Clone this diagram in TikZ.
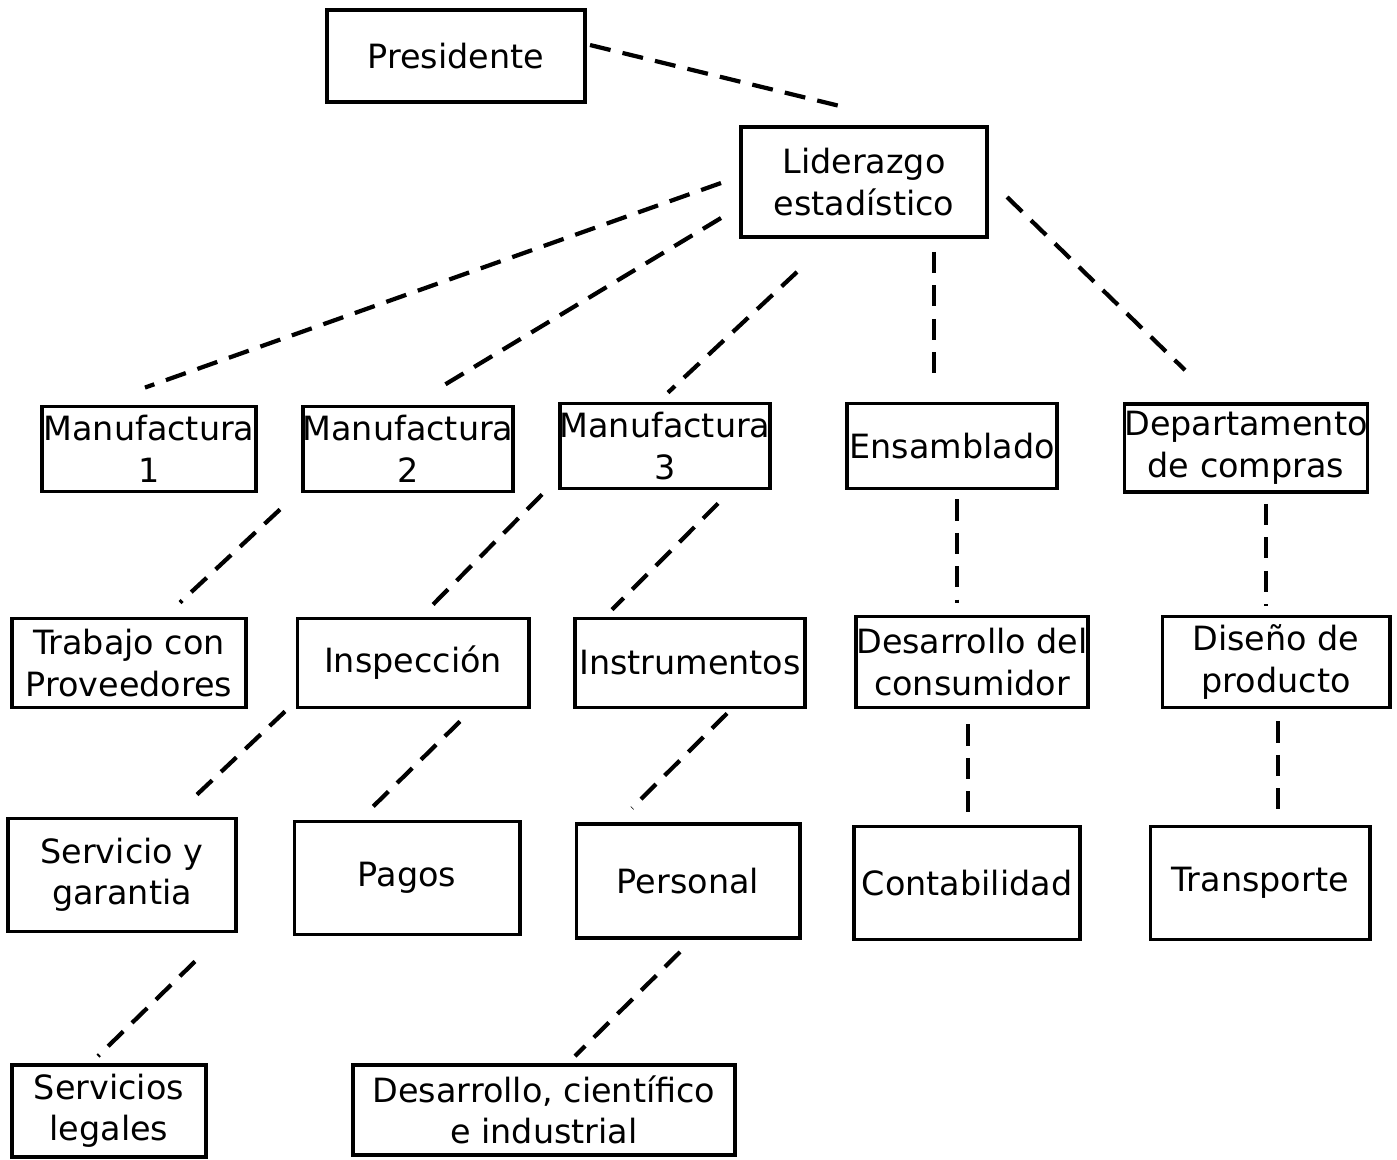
\documentclass[tikz,border=0pt]{standalone}
\usepackage{fontspec}
\setmainfont{DejaVu Sans}
\usetikzlibrary{calc}
\begin{document}
\begin{tikzpicture}[x=0.01cm, y=-0.01cm,
    unitbox/.style={rectangle, draw=black, line width=1.1pt, inner sep=0pt, align=center, font=\fontsize{9.5}{11.8}\selectfont},
    dotlink/.style={line width=1.2pt, dash pattern=on 6pt off 3.5pt}
]
    \useasboundingbox (0,0) rectangle (1397,1159);

    \node[unitbox, minimum width=2.58cm, minimum height=0.92cm] (pres) at (456,56) {Presidente};
    \node[unitbox, minimum width=2.46cm, minimum height=1.10cm] (lid) at (864,182) {Liderazgo\\estadístico};

    \node[unitbox, minimum width=2.14cm, minimum height=0.85cm] (manuf1) at (149,449) {Manufactura\\1};
    \node[unitbox, minimum width=2.10cm, minimum height=0.85cm] (manuf2) at (408,449) {Manufactura\\2};
    \node[unitbox, minimum width=2.09cm, minimum height=0.85cm] (manuf3) at (665,446) {Manufactura\\3};
    \node[unitbox, minimum width=2.10cm, minimum height=0.85cm] (ens) at (952,446) {Ensamblado};
    \node[unitbox, minimum width=2.33cm, minimum height=0.88cm] (compras) at (1246,448) {Departamento\\de compras};

    \node[unitbox, minimum width=2.34cm, minimum height=0.89cm] (trab) at (129,663) {Trabajo con\\Proveedores};
    \node[unitbox, minimum width=2.31cm, minimum height=0.89cm] (insp) at (413,663) {Inspección};
    \node[unitbox, minimum width=2.30cm, minimum height=0.89cm] (instr) at (690,663) {Instrumentos};
    \node[unitbox, minimum width=2.32cm, minimum height=0.91cm] (descons) at (972,662) {Desarrollo del\\consumidor};
    \node[unitbox, minimum width=2.27cm, minimum height=0.91cm] (diseno) at (1276,662) {Diseño de\\producto};

    \node[unitbox, minimum width=2.28cm, minimum height=1.13cm] (serv) at (122,875) {Servicio y\\garantia};
    \node[unitbox, minimum width=2.25cm, minimum height=1.13cm] (pagos) at (407,878) {Pagos};
    \node[unitbox, minimum width=2.23cm, minimum height=1.14cm] (pers) at (688,881) {Personal};
    \node[unitbox, minimum width=2.26cm, minimum height=1.13cm] (conta) at (967,883) {Contabilidad};
    \node[unitbox, minimum width=2.19cm, minimum height=1.13cm] (transp) at (1260,883) {Transporte};

    \node[unitbox, minimum width=1.94cm, minimum height=0.92cm] (legal) at (109,1111) {Servicios\\legales};
    \node[unitbox, minimum width=3.81cm, minimum height=0.90cm] (descient) at (544,1110) {Desarrollo, científico\\e industrial};

    \draw[dotlink] ($(pres.east)+(3,-11)$) -- ($(lid.north)+(-24,-19)$);
    \draw[dotlink] ($(lid.west)+(-18,1)$) -- ($(manuf1.north)+(-4,-17)$);
    \draw[dotlink] ($(lid.west)+(-18,36)$) -- ($(manuf2.north)+(32,-17)$);
    \draw[dotlink] ($(lid.south)+(-67,33)$) -- ($(manuf3.north)+(3,-9)$);
    \draw[dotlink] ($(lid.south)+(70,13)$) -- ($(ens.north)+(-18,-22)$);
    \draw[dotlink] ($(lid.east)+(18,15)$) -- ($(compras.north)+(-61,-32)$);

    \draw[dotlink] ($(manuf1.south)+(131,16)$) -- ($(trab.north)+(51,-14)$);
    \draw[dotlink] ($(manuf2.south)+(134,1)$) -- ($(insp.north)+(15,-7)$);
    \draw[dotlink] ($(manuf3.south)+(53,13)$) -- ($(instr.north)+(-78,-7)$);
    \draw[dotlink] ($(ens.south)+(5,9)$) -- ($(descons.north)+(-15,-12)$);
    \draw[dotlink] ($(compras.south)+(20,10)$) -- ($(diseno.north)+(-10,-9)$);

    \draw[dotlink] ($(trab.south)+(156,2)$) -- ($(serv.north)+(75,-22)$);
    \draw[dotlink] ($(insp.south)+(47,12)$) -- ($(pagos.north)+(-37,-10)$);
    \draw[dotlink] ($(instr.south)+(37,4)$) -- ($(pers.north)+(-56,-14)$);
    \draw[dotlink] ($(descons.south)+(-4,15)$) -- ($(conta.north)+(1,-12)$);
    \draw[dotlink] ($(diseno.south)+(2,12)$) -- ($(transp.north)+(18,-7)$);

    \draw[dotlink] ($(serv.south)+(73,28)$) -- ($(legal.north)+(-11,-7)$);
    \draw[dotlink] ($(pers.south)+(-8,12)$) -- ($(descient.north)+(31,-7)$);
\end{tikzpicture}
\end{document}
